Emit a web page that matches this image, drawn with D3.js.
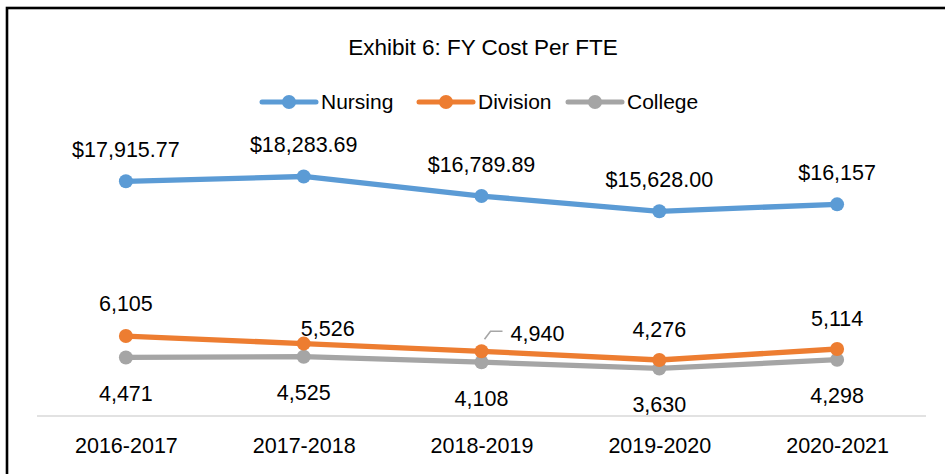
<!DOCTYPE html>
<html>
<head>
<meta charset="utf-8">
<script src="https://cdn.jsdelivr.net/npm/d3@7"></script>
<style>
  html, body { margin: 0; padding: 0; background: #fff; }
  svg { display: block; font-family: "Liberation Sans", Arial, sans-serif; }
</style>
</head>
<body>
<svg id="chart"></svg>
<script>
// data
const years = ["2016-2017", "2017-2018", "2018-2019", "2019-2020", "2020-2021"];
const nursing = [17915.77, 18283.69, 16789.89, 15628.00, 16157];
const nursingFormats = ["$,.2f", "$,.2f", "$,.2f", "$,.2f", "$,.0f"];
const division = [6105, 5526, 4940, 4276, 5114];
const college = [4471, 4525, 4108, 3630, 4298];
const seriesNames = ["Nursing", "Division", "College"];
const colors = ["#5B9BD5", "#ED7D31", "#A5A5A5"];

const width = 945;
const height = 474;
const svg = d3.select("#chart").attr("width", width).attr("height", height);

const margin = { top: 154, right: 19, bottom: 58, left: 37 };

const x = d3.scalePoint()
  .domain(years)
  .range([margin.left, width - margin.right])
  .padding(0.5);

const y = d3.scaleLinear()
  .domain([0, 20000])
  .range([height - margin.bottom, margin.top]);

// 外框
svg.append("rect")
  .attr("x", 7)
  .attr("y", 8)
  .attr("width", 980)
  .attr("height", 500)
  .attr("fill", "none")
  .attr("stroke", "#000")
  .attr("stroke-width", 2.6);

// 标题
svg.append("text")
  .attr("x", 483)
  .attr("y", 55)
  .attr("text-anchor", "middle")
  .attr("font-size", "22.5px")
  .attr("fill", "#000")
  .text("Exhibit 6: FY Cost Per FTE");

// 图例
const legendX = [262, 419, 568];
const legend = svg.append("g")
  .selectAll("g")
  .data(seriesNames)
  .join("g")
  .attr("transform", (d, i) => `translate(${legendX[i]}, 102)`);

legend.append("line")
  .attr("x1", 0).attr("x2", 54)
  .attr("stroke", (d, i) => colors[i])
  .attr("stroke-width", 5)
  .attr("stroke-linecap", "round");

legend.append("circle")
  .attr("cx", 27)
  .attr("r", 7)
  .attr("fill", (d, i) => colors[i]);

legend.append("text")
  .attr("x", 59)
  .attr("dy", "0.35em")
  .attr("font-size", "21px")
  .attr("fill", "#000")
  .text(d => d);

// x 轴
const xAxis = svg.append("g")
  .attr("transform", `translate(0, ${height - margin.bottom})`)
  .call(d3.axisBottom(x).tickSize(0).tickPadding(22));

xAxis.select(".domain")
  .attr("d", `M${margin.left},0H${width - margin.right}`)
  .attr("stroke", "#D9D9D9")
  .attr("stroke-width", 1.6);

xAxis.selectAll("text")
  .attr("font-size", "21.5px")
  .attr("font-family", "Liberation Sans, Arial, sans-serif")
  .attr("fill", "#000");

// 折线
const allSeries = [nursing, division, college];
const line = d3.line()
  .x((d, i) => x(years[i]))
  .y(d => y(d));

// 从下往上画，Nursing 在最上
[2, 1, 0].forEach(s => {
  const g = svg.append("g");
  g.append("path")
    .datum(allSeries[s])
    .attr("d", line)
    .attr("fill", "none")
    .attr("stroke", colors[s])
    .attr("stroke-width", 5.3)
    .attr("stroke-linejoin", "round");
  g.selectAll("circle")
    .data(allSeries[s])
    .join("circle")
    .attr("cx", (d, i) => x(years[i]))
    .attr("cy", d => y(d))
    .attr("r", 7)
    .attr("fill", colors[s]);
});

// 数据标签
const labelStyle = sel => sel
  .attr("font-size", "21.5px")
  .attr("fill", "#000")
  .attr("dy", "0.35em")
  .attr("text-anchor", "middle");

svg.append("g").selectAll("text")
  .data(nursing)
  .join("text")
  .call(labelStyle)
  .attr("x", (d, i) => x(years[i]))
  .attr("y", d => y(d) - 32)
  .text((d, i) => d3.format(nursingFormats[i])(d));

// Division 标签偏移 (部分标签被移开)
const divisionShift = [[0, -33], [24, -15], [56, -18], [0, -31], [0, -31]];
svg.append("g").selectAll("text")
  .data(division)
  .join("text")
  .call(labelStyle)
  .attr("x", (d, i) => x(years[i]) + divisionShift[i][0])
  .attr("y", (d, i) => y(d) + divisionShift[i][1])
  .text(d => d3.format(",")(d));

// 4,940 引导线
const lx = x(years[2]), ly = y(division[2]);
svg.append("path")
  .attr("d", `M${lx + 3},${ly - 12}L${lx + 9},${ly - 20}H${lx + 21}`)
  .attr("fill", "none")
  .attr("stroke", "#A6A6A6")
  .attr("stroke-width", 1.6);

svg.append("g").selectAll("text")
  .data(college)
  .join("text")
  .call(labelStyle)
  .attr("x", (d, i) => x(years[i]))
  .attr("y", d => y(d) + 36)
  .text(d => d3.format(",")(d));
</script>
</body>
</html>
